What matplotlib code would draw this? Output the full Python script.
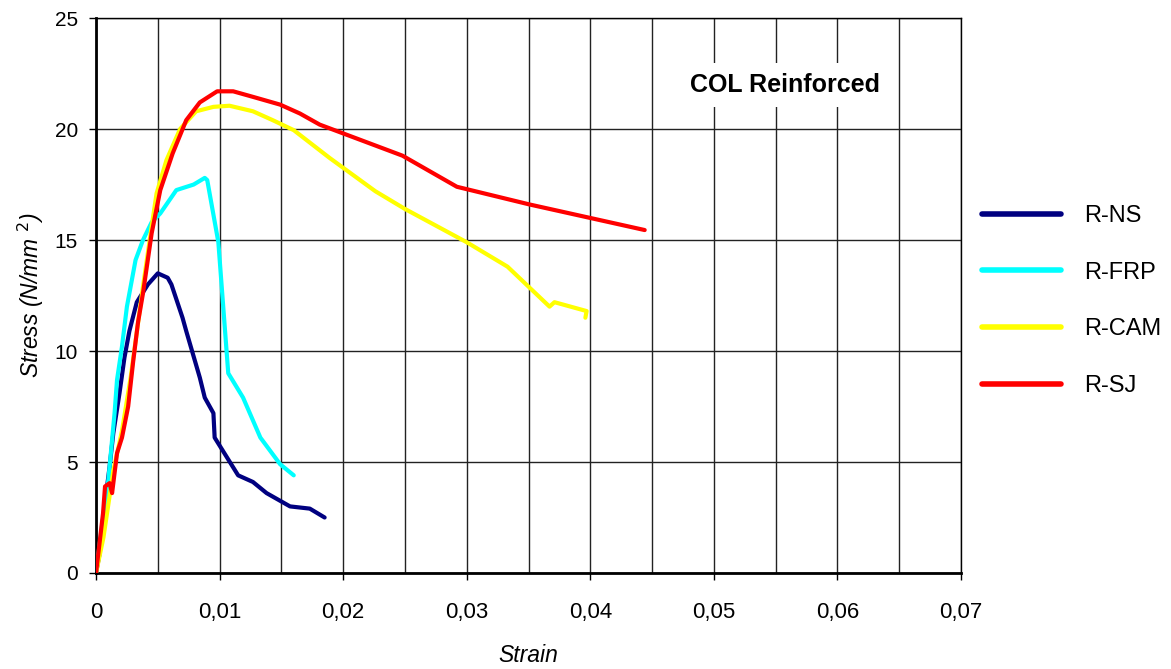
#
# Stress-strain curves for the reinforced columns (COL Reinforced).
#

import matplotlib
matplotlib.use('Agg')
import matplotlib.pyplot as plt
from matplotlib.ticker import MultipleLocator, FuncFormatter


#######################################################################

# Curve values.

ns_strain = [0, 0.0003, 0.0006, 0.0011, 0.0014, 0.0019, 0.0023, 0.0027,
             0.0033, 0.0042, 0.0050, 0.0058, 0.0061, 0.0070, 0.0073,
             0.0084, 0.0088, 0.0095, 0.0096, 0.0115, 0.0127, 0.0138,
             0.0157, 0.0173, 0.0185]
ns_stress = [0, 0.9, 2.6, 4.8, 6.3, 8.1, 9.7, 10.9,
             12.2, 13.0, 13.5, 13.3, 13.0, 11.5, 10.9,
             8.8, 7.9, 7.2, 6.1, 4.4, 4.1, 3.6,
             3.0, 2.9, 2.5]

frp_strain = [0, 0.0005, 0.0010, 0.0015, 0.0017, 0.0021, 0.0025, 0.0029,
              0.0032, 0.0038, 0.0045, 0.0052, 0.0065, 0.0079, 0.0088,
              0.0090, 0.0099, 0.0107, 0.0119, 0.0133, 0.0149, 0.0160]
frp_stress = [0, 2.2, 4.2, 7.2, 8.7, 10.2, 12.0, 13.2,
              14.1, 15.0, 15.8, 16.2, 17.25, 17.5, 17.8,
              17.7, 14.9, 9.0, 7.9, 6.1, 4.9, 4.4]

cam_strain = [0, 0.0006, 0.0014, 0.0021, 0.0028, 0.0038, 0.0045, 0.0049,
              0.0057, 0.0068, 0.0081, 0.0095, 0.0108, 0.0127, 0.0143,
              0.0160, 0.0189, 0.0226, 0.0250, 0.0300, 0.0333, 0.0367,
              0.0371, 0.0397, 0.0396]
cam_stress = [0, 1.6, 4.6, 6.4, 8.8, 12.9, 15.6, 17.1,
              18.6, 20.0, 20.8, 21.0, 21.05, 20.8, 20.4,
              19.95, 18.7, 17.2, 16.4, 14.9, 13.8, 12.0,
              12.2, 11.8, 11.5]

sj_strain = [0, 0.00057, 0.00073, 0.0011, 0.0013, 0.0017, 0.0021, 0.0026,
             0.0030, 0.0034, 0.0038, 0.0045, 0.0052, 0.0062, 0.0073,
             0.0084, 0.0098, 0.0111, 0.0127, 0.0149, 0.0165, 0.0181,
             0.0248, 0.0292, 0.0351, 0.0444]
sj_stress = [0, 2.7, 3.9, 4.05, 3.6, 5.4, 6.1, 7.5,
             9.5, 11.3, 12.6, 15.3, 17.25, 18.9, 20.4,
             21.2, 21.7, 21.7, 21.45, 21.1, 20.7, 20.2,
             18.8, 17.4, 16.6, 15.45]

labels = ['R-NS', 'R-FRP', 'R-CAM', 'R-SJ']
colours = ['#000080', '#00FFFF', '#FFFF00', '#FF0000']

x_ticks = [0, 0.01, 0.02, 0.03, 0.04, 0.05, 0.06, 0.07]
y_ticks = [0, 5, 10, 15, 20, 25]


#######################################################################


plt.rcParams['font.family'] = ['Liberation Sans', 'DejaVu Sans']

fig = plt.figure(figsize = (11.71, 6.69), dpi = 100)
ax = fig.add_axes([0.082, 0.1435, 0.7387, 0.8295])

curves = [(ns_strain, ns_stress), (frp_strain, frp_stress),
          (cam_strain, cam_stress), (sj_strain, sj_stress)]

for (xs, ys), lab, col in zip(curves, labels, colours):
    ax.plot(xs, ys, color = col, lw = 3.0, label = lab,
            solid_capstyle = 'round', zorder = 3)

ax.set_xlim(x_ticks[0], x_ticks[-1])
ax.set_ylim(y_ticks[0], y_ticks[-1])

ax.set_xticks(x_ticks)
ax.set_yticks(y_ticks)
ax.xaxis.set_minor_locator(MultipleLocator(0.005))
ax.xaxis.set_major_formatter(
    FuncFormatter(lambda v, p: '0' if v == 0 else ('%.2f' % v).replace('.', ',')))

ax.grid(True, which = 'major', color = '#222222', lw = 1.0, zorder = 1)
ax.grid(True, which = 'minor', axis = 'x', color = '#222222', lw = 1.0,
        zorder = 1)

ax.tick_params(axis = 'y', which = 'major', labelsize = 15,
               direction = 'out', length = 5, width = 1, pad = 8)
ax.tick_params(axis = 'x', which = 'major', labelsize = 16,
               direction = 'out', length = 5, width = 1, pad = 16)
ax.tick_params(axis = 'x', which = 'minor', length = 0)

for side in ['left', 'bottom']:
    ax.spines[side].set_linewidth(2)
for side in ['top', 'right']:
    ax.spines[side].set_linewidth(1)

ax.set_xlabel('Strain', fontsize = 16.5, style = 'italic', labelpad = 15)
ax.set_ylabel(r'Stress (N/mm $^{2}$)', fontsize = 16.5, style = 'italic',
              labelpad = 6)

# Title box inside the plot area.
ax.text(0.05575, 21.98, 'COL Reinforced', fontsize = 18,
        fontweight = 'bold', ha = 'center', va = 'center', zorder = 4,
        bbox = dict(boxstyle = 'square,pad=0.4', fc = 'white', ec = 'none'))

leg = ax.legend(loc = 'center left', bbox_to_anchor = (1.0104, 0.49),
                frameon = False, fontsize = 17, borderpad = 0,
                handlelength = 3.35, handletextpad = 1.0,
                labelspacing = 1.47)
for line in leg.get_lines():
    line.set_linewidth(4)

fig.savefig('out.png', dpi = 100)
